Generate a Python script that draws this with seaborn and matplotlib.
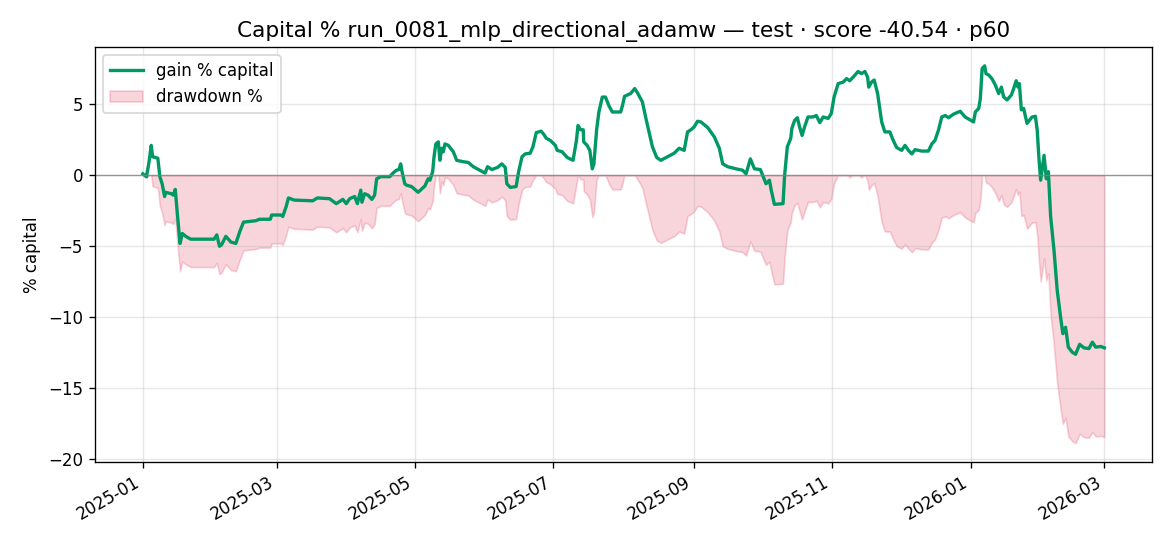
import numpy as np
import pandas as pd
import matplotlib
matplotlib.use("Agg")
import matplotlib.pyplot as plt
import matplotlib.dates as mdates
import seaborn as sns

START = "2025-01-01"
# days since start (fractional) and gain % of capital
day = [0.0, 1.6, 2.7, 3.7, 4.3, 6.6, 7.5, 8.5, 9.6, 10.0, 12.5, 13.4, 14.3, 15.2, 16.4,
       17.4, 18.9, 21.1, 31.4, 32.6, 33.8, 34.7, 36.6, 38.8, 41.0, 42.9, 44.4, 49.9, 51.3,
       56.2, 56.8, 60.9, 61.7, 63.2, 64.2, 66.8, 74.9, 76.9, 82.3, 85.3, 88.2, 89.7, 91.2,
       93.4, 94.6, 96.1, 96.6, 97.8, 99.3, 101.0, 102.2, 103.1, 104.9, 108.9, 110.3, 111.8,
       112.9, 113.7, 114.3, 115.5, 116.3, 118.5, 121.4, 124.4, 125.8, 126.6, 127.8, 128.4,
       129.2, 130.3, 131.0, 131.8, 132.5, 133.2, 134.7, 136.9, 138.4, 141.3, 143.5, 145.7,
       148.0, 150.9, 152.0, 153.9, 156.4, 158.3, 159.8, 160.5, 162.0, 164.6, 165.7, 167.2,
       168.6, 170.8, 172.0, 173.5, 175.6, 176.7, 177.9, 179.7, 181.9, 182.7, 184.9, 187.1,
       189.7, 191.2, 191.9, 193.0, 194.2, 194.4, 195.9, 197.1, 198.2, 198.9, 200.1, 201.1,
       202.6, 204.0, 205.5, 207.0, 210.7, 211.5, 212.4, 215.1, 216.9, 218.3, 220.3, 221.7,
       223.2, 224.7, 226.6, 228.4, 231.3, 234.3, 236.5, 238.7, 240.2, 241.7, 243.1, 244.6,
       246.1, 249.1, 252.0, 254.2, 255.7, 257.9, 261.6, 264.5, 266.0, 267.9, 269.7, 272.3,
       274.8, 276.3, 277.1, 278.5, 282.3, 283.0, 284.2, 285.7, 286.2, 287.4, 288.6, 289.6,
       290.7, 291.8, 293.3, 295.5, 297.0, 298.5, 300.0, 302.2, 303.6, 304.8, 306.6, 308.8,
       310.3, 311.7, 313.2, 315.4, 316.9, 318.4, 319.6, 320.1, 321.3, 322.5, 324.0, 325.8,
       327.2, 329.4, 330.9, 332.4, 334.6, 336.1, 337.6, 339.1, 340.5, 343.5, 346.4, 347.9,
       349.3, 350.8, 352.3, 353.8, 355.3, 357.5, 360.4, 362.6, 366.3, 367.1, 368.6, 369.3,
       370.1, 371.2, 371.8, 373.0, 374.4, 375.9, 377.4, 378.6, 379.6, 381.1, 383.0, 384.0,
       385.1, 385.9, 386.5, 387.4, 388.4, 389.9, 392.1, 393.6, 394.4, 395.1, 395.9, 397.4,
       398.4, 399.3, 400.3, 401.8, 403.2, 404.7, 405.7, 406.9, 408.1, 409.8, 411.3, 413.1,
       415.0, 417.2, 418.7, 420.2, 422.4, 424.0]
gain = [0.1, -0.1, 0.9, 2.1, 1.3, 1.2, -0.1, -0.6, -1.5, -1.2, -1.3, -1.4, -1.0, -2.7, -4.8,
        -4.1, -4.3, -4.5, -4.5, -4.2, -5.0, -4.9, -4.3, -4.7, -4.8, -3.9, -3.3, -3.2, -3.1,
        -3.1, -2.8, -2.8, -2.9, -2.2, -1.6, -1.75, -1.8, -1.6, -1.65, -2.0, -1.7, -2.0, -1.65,
        -1.5, -2.0, -1.05, -1.9, -1.3, -1.4, -1.7, -1.4, -0.25, -0.1, -0.1, 0.15, 0.35,
        0.4, 0.8, 0.25, -0.6, -0.7, -0.8, -1.2, -0.75, -0.25, -0.35, 0.25, 1.3,
        2.2, 2.35, 1.05, 1.9, 1.65, 2.2, 2.1, 1.65, 1.05, 0.95, 0.9, 0.6,
        0.4, 0.15, 0.6, 0.4, 0.55, 0.8, 0.55, -0.6, -0.85, -0.8, 0.25, 1.3,
        1.5, 1.55, 2.0, 3.0, 3.1, 2.9, 2.6, 2.45, 2.1, 1.75, 1.65, 1.25,
        1.05, 2.45, 3.5, 3.2, 3.2, 2.35, 2.1, 1.75, 0.45, 0.8, 3.2, 4.45,
        5.5, 5.5, 4.9, 4.45, 4.45, 4.9, 5.55, 5.75, 6.1, 5.75, 5.15, 4.1,
        3.05, 2.0, 1.25, 1.05, 1.3, 1.55, 1.9, 1.75, 3.05, 3.2, 3.4, 3.8,
        3.75, 3.35, 2.7, 1.9, 0.8, 0.6, 0.45, 0.35, 0.1, 1.15, 0.45, 0.4,
        -0.6, -0.35, -1.05, -2.05, -2.0, 0.0, 2.0, 2.6, 3.3, 3.85, 4.05, 3.4,
        2.8, 3.4, 4.1, 4.1, 4.2, 3.7, 4.1, 4.0, 4.35, 5.5, 6.45, 6.55,
        6.8, 6.65, 6.9, 7.3, 7.15, 7.3, 6.9, 6.2, 6.55, 6.7, 5.75, 3.75,
        3.05, 3.05, 2.45, 1.95, 1.75, 2.1, 1.75, 1.5, 1.8, 1.7, 1.7, 2.2,
        2.45, 3.15, 4.1, 4.2, 4.05, 4.3, 4.5, 4.1, 3.75, 4.45, 4.7, 5.4,
        7.5, 7.7, 7.15, 7.05, 6.8, 6.35, 5.75, 6.2, 5.5, 5.3, 5.65, 6.1,
        6.65, 6.2, 6.45, 4.6, 4.7, 3.65, 4.1, 4.15, 3.15, 1.3, -0.35, 1.4,
        -0.25, 0.25, -2.9, -5.3, -8.1, -10.0, -11.15, -10.7, -12.1, -12.45, -12.6, -11.9,
        -12.15, -12.2, -11.75, -12.1, -12.05, -12.15]

TITLE = "Capital % run_0081_mlp_directional_adamw — test · score -40.54 · p60"

dates = pd.Timestamp(START) + pd.to_timedelta(np.array(day), unit="D")
df = pd.DataFrame({"date": dates, "gain": gain})
equity = 1 + df["gain"] / 100.0
df["dd"] = (equity / equity.cummax() - 1) * 100.0

plt.rcParams["font.family"] = ["DejaVu Sans"]
fig, ax = plt.subplots(figsize=(9.75, 4.55), dpi=120)

sns.lineplot(data=df, x="date", y="gain", ax=ax, color="#009966", lw=2,
             label="gain % capital")
ax.fill_between(df["date"], df["dd"], 0, color="crimson", alpha=0.18,
                label="drawdown %")
ax.axhline(0, color="gray", lw=0.8, alpha=0.8)

ax.grid(True, alpha=0.3)
ax.set_title(TITLE, fontsize=13)
ax.set_ylabel("% capital")
ax.set_xlabel("")
ax.xaxis.set_major_locator(mdates.MonthLocator(bymonth=[1, 3, 5, 7, 9, 11]))
ax.xaxis.set_major_formatter(mdates.DateFormatter("%Y-%m"))
ax.legend(loc="upper left")
fig.autofmt_xdate()
fig.subplots_adjust(left=0.081, right=0.985, top=0.914, bottom=0.154)
fig.savefig("out.png", dpi=120)
